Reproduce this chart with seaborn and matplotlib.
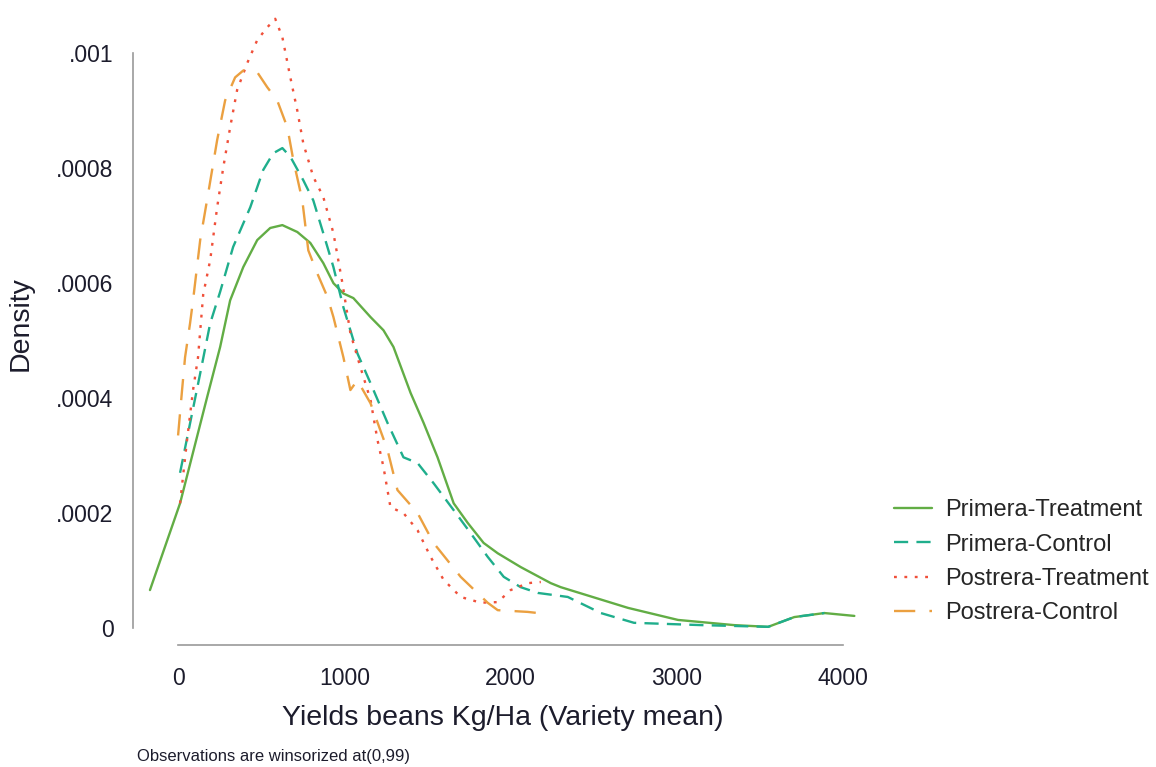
import matplotlib
matplotlib.use("Agg")
import matplotlib.pyplot as plt
import matplotlib.ticker as mticker
import seaborn as sns
import pandas as pd

# Kernel density estimates of bean yields, traced per season/arm
pt_x = [-169, 12, 175, 253, 313, 392, 476, 554, 627, 717, 795, 873, 934, 994, 1054,
        1157, 1235, 1295, 1398, 1476, 1560, 1657, 1741, 1837, 1922, 2060, 2241, 2301,
        2705, 3006, 3343, 3548, 3705, 3886, 4066]
pt_y = [0.000066, 0.000217, 0.000402, 0.000489, 0.000570, 0.000628, 0.000675, 0.000696,
        0.000701, 0.000689, 0.000670, 0.000635, 0.000600, 0.000582, 0.000574, 0.000541,
        0.000518, 0.000489, 0.000409, 0.000357, 0.000297, 0.000217, 0.000183, 0.000148,
        0.000130, 0.000106, 0.000078, 0.000071, 0.000035, 0.000014, 0.000005, 0.000002,
        0.000019, 0.000026, 0.000021]

pc_x = [12, 72, 133, 193, 253, 331, 434, 512, 572, 627, 675, 753, 813, 873, 934, 994,
        1078, 1157, 1259, 1355, 1440, 1536, 1657, 1759, 1861, 1958, 2060, 2163, 2241,
        2343, 2542, 2741, 3145, 3548, 3705, 3886]
pc_y = [0.000270, 0.000356, 0.000443, 0.000530, 0.000585, 0.000663, 0.000732, 0.000797,
        0.000826, 0.000835, 0.000820, 0.000779, 0.000744, 0.000687, 0.000628, 0.000558,
        0.000478, 0.000426, 0.000357, 0.000297, 0.000287, 0.000252, 0.000205, 0.000165,
        0.000124, 0.000089, 0.000071, 0.000061, 0.000058, 0.000054, 0.000026, 0.000009,
        0.000005, 0.000002, 0.000019, 0.000026]

tt_x = [12, 54, 90, 120, 151, 193, 235, 271, 313, 355, 416, 476, 536, 584, 627, 675,
        717, 753, 813, 873, 934, 988, 1036, 1096, 1157, 1199, 1235, 1277, 1355, 1440,
        1518, 1596, 1699, 1819, 1922, 2000, 2102, 2181]
tt_y = [0.000217, 0.000327, 0.000414, 0.000471, 0.000580, 0.000640, 0.000732, 0.000800,
        0.000871, 0.000936, 0.000983, 0.001023, 0.001045, 0.001060, 0.001028, 0.000958,
        0.000900, 0.000843, 0.000785, 0.000750, 0.000687, 0.000600, 0.000513, 0.000454,
        0.000397, 0.000327, 0.000280, 0.000210, 0.000200, 0.000170, 0.000124, 0.000084,
        0.000054, 0.000044, 0.000045, 0.000066, 0.000078, 0.000080]

tc_x = [0, 24, 42, 72, 90, 133, 181, 235, 283, 343, 392, 476, 536, 596, 657, 693, 747,
        783, 837, 898, 934, 994, 1036, 1078, 1157, 1259, 1319, 1440, 1536, 1699, 1861,
        1922, 2102, 2163]
tc_y = [0.000335, 0.000414, 0.000471, 0.000530, 0.000570, 0.000675, 0.000756, 0.000849,
        0.000918, 0.000958, 0.000970, 0.000967, 0.000941, 0.000918, 0.000871, 0.000814,
        0.000744, 0.000657, 0.000617, 0.000576, 0.000541, 0.000471, 0.000414, 0.000431,
        0.000391, 0.000310, 0.000240, 0.000200, 0.000148, 0.000089, 0.000044, 0.000031,
        0.000028, 0.000026]

series = [
    ("Primera-Treatment", pt_x, pt_y, "#62ad45", "-"),
    ("Primera-Control", pc_x, pc_y, "#1fae8c", (0, (6, 3.5))),
    ("Postrera-Treatment", tt_x, tt_y, "#f0503a", (0, (1.2, 3.2))),
    ("Postrera-Control", tc_x, tc_y, "#eba040", (0, (9, 6))),
]

x_ticks = [0, 1000, 2000, 3000, 4000]
y_ticks = [0, 0.0002, 0.0004, 0.0006, 0.0008, 0.001]
y_tick_labels = ["0", ".0002", ".0004", ".0006", ".0008", ".001"]

sns.set_style("white")
plt.rcParams["font.family"] = ["Liberation Sans", "DejaVu Sans"]

fig = plt.figure(figsize=(11.56, 7.67), dpi=100)
ax_left, ax_right, ax_bottom_px = 133, 860, 645
ax = fig.add_axes([ax_left / 1156, 1 - ax_bottom_px / 767,
                   (ax_right - ax_left) / 1156, ax_bottom_px / 767 - 0.002])

for name, xs, ys, color, ls in series:
    df = pd.DataFrame({"x": xs, "y": ys})
    sns.lineplot(data=df, x="x", y="y", ax=ax, color=color, linestyle=ls,
                 linewidth=1.7, estimator=None, label=name)

ax.set_xlim(-271, 4100)
ax.set_ylim(-0.0000296, 0.00109)

ax.set_xticks(x_ticks)
ax.set_xticklabels([str(v) for v in x_ticks])
ax.set_yticks(y_ticks)
ax.yaxis.set_major_formatter(mticker.FixedFormatter(y_tick_labels))

for side in ["top", "right"]:
    ax.spines[side].set_visible(False)
for side in ["left", "bottom"]:
    ax.spines[side].set_color("#9a9a9a")
    ax.spines[side].set_linewidth(1.2)
ax.spines["left"].set_bounds(0, 0.001)
ax.spines["bottom"].set_bounds(0, 4000)

ax.tick_params(axis="both", which="major", length=8, width=1.1, color="#9a9a9a",
               labelsize=16.5, labelcolor="#1c1c2c", direction="out")
ax.tick_params(axis="x", pad=8)
ax.tick_params(axis="y", pad=6)

ax_w = ax_right - ax_left
ax_h = ax_bottom_px - 1
ax.set_xlabel("Yields beans Kg/Ha (Variety mean)", fontsize=20.5, color="#1c1c2c")
ax.xaxis.set_label_coords((503 - ax_left) / ax_w, (ax_bottom_px - 705) / ax_h)
ax.set_ylabel("Density", fontsize=20.5, color="#1c1c2c")
ax.yaxis.set_label_coords((34 - ax_left) / ax_w, (ax_bottom_px - 323) / ax_h)

ax.legend(loc="upper left", bbox_to_anchor=(885 / 1156, 1 - 490 / 767),
          bbox_transform=fig.transFigure, frameon=False, fontsize=17,
          handlelength=1.6, handletextpad=0.55, labelspacing=0.52, borderaxespad=0)

fig.text(137 / 1156, 1 - 757 / 767, "Observations are winsorized at(0,99)",
         fontsize=12, color="#1c1c2c", va="center", ha="left")

fig.savefig("out.png", dpi=100, facecolor="white")
